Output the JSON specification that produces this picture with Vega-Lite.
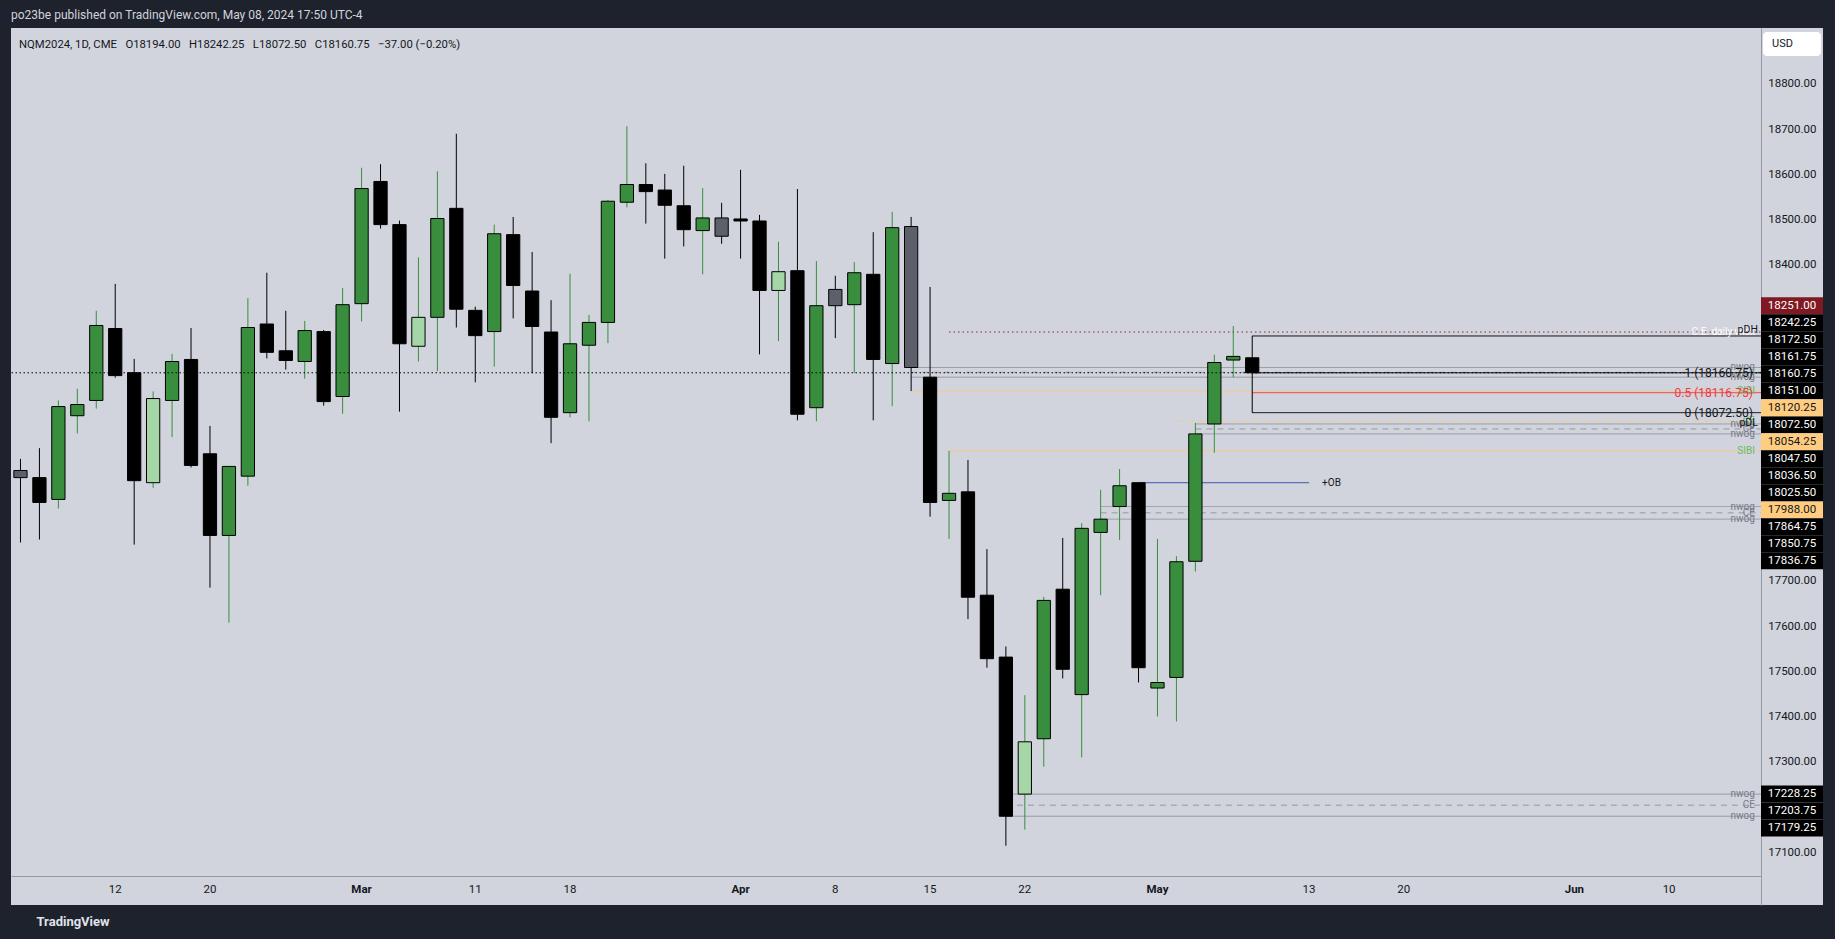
{
  "$schema": "https://vega.github.io/schema/vega-lite/v6.json",
  "autosize": {"type": "pad"},
  "padding": {"left": 10, "top": 9, "right": 13, "bottom": 11},
  "background": "#1e222d",
  "bounds": "flush",
  "config": {
    "view": {"fill": "#d1d4dc", "stroke": null},
    "font": "Roboto",
    "axis": {"grid": false, "ticks": false, "tickSize": 0, "labelFont": "Roboto", "labelColor": "#131722", "domainColor": "#9598a1", "labelFontSize": 11.5, "labelOverlap": false, "labelBound": false},
    "legend": {"disable": true}
  },
  "title": {"text": "po23be published on TradingView.com, May 08, 2024 17:50 UTC-4", "anchor": "start", "frame": "group", "fontSize": 12, "fontWeight": "normal", "color": "#d1d4dc", "offset": 6, "font": "Roboto"},
  "datasets": {
    "candles": [
      {"d":"2024-02-05","o":17944.5,"h":17970.25,"l":17785,"c":17928.75,"k":"downAlt"},
      {"d":"2024-02-06","o":17928.75,"h":17994,"l":17791.75,"c":17873.75,"k":"down"},
      {"d":"2024-02-07","o":17880.5,"h":18099.5,"l":17860.25,"c":18086,"k":"up"},
      {"d":"2024-02-08","o":18065.75,"h":18125.25,"l":18026.5,"c":18090.5,"k":"up"},
      {"d":"2024-02-09","o":18099.5,"h":18298,"l":18081.5,"c":18265.5,"k":"up"},
      {"d":"2024-02-12","o":18258.75,"h":18357.5,"l":18150,"c":18154.5,"k":"down"},
      {"d":"2024-02-13","o":18161,"h":18191.5,"l":17780.5,"c":17922,"k":"down"},
      {"d":"2024-02-14","o":17917.5,"h":18119.5,"l":17906.25,"c":18103.75,"k":"upAlt"},
      {"d":"2024-02-15","o":18099.5,"h":18202.5,"l":18018.5,"c":18185.75,"k":"up"},
      {"d":"2024-02-16","o":18190.25,"h":18260,"l":17951.25,"c":17955.75,"k":"down"},
      {"d":"2024-02-20","o":17981.5,"h":18043.25,"l":17685.25,"c":17800.75,"k":"down"},
      {"d":"2024-02-21","o":17800.75,"h":17953.5,"l":17607.75,"c":17953.5,"k":"up"},
      {"d":"2024-02-22","o":17932,"h":18326,"l":17910.75,"c":18261,"k":"up"},
      {"d":"2024-02-23","o":18268.75,"h":18382.25,"l":18192.5,"c":18206,"k":"down"},
      {"d":"2024-02-26","o":18209.5,"h":18298,"l":18167.75,"c":18188,"k":"down"},
      {"d":"2024-02-27","o":18185.75,"h":18275.5,"l":18147.5,"c":18254.25,"k":"up"},
      {"d":"2024-02-28","o":18252,"h":18255.5,"l":18088,"c":18097,"k":"down"},
      {"d":"2024-02-29","o":18108.25,"h":18348.5,"l":18070.25,"c":18311.5,"k":"up"},
      {"d":"2024-03-01","o":18313.75,"h":18614.5,"l":18274.5,"c":18568.5,"k":"up"},
      {"d":"2024-03-04","o":18584.25,"h":18622.5,"l":18480,"c":18488.75,"k":"down"},
      {"d":"2024-03-05","o":18488.75,"h":18497.75,"l":18074.75,"c":18225,"k":"down"},
      {"d":"2024-03-06","o":18219.5,"h":18416,"l":18185.75,"c":18283.5,"k":"upAlt"},
      {"d":"2024-03-07","o":18283.5,"h":18606.75,"l":18164.5,"c":18502.25,"k":"up"},
      {"d":"2024-03-08","o":18524.75,"h":18689.75,"l":18261,"c":18301.5,"k":"down"},
      {"d":"2024-03-11","o":18299,"h":18307,"l":18139.75,"c":18243,"k":"down"},
      {"d":"2024-03-12","o":18252,"h":18488.75,"l":18174.5,"c":18468.5,"k":"up"},
      {"d":"2024-03-13","o":18466.5,"h":18505.75,"l":18281.25,"c":18354,"k":"down"},
      {"d":"2024-03-14","o":18341.75,"h":18428.25,"l":18160,"c":18263.25,"k":"down"},
      {"d":"2024-03-15","o":18251,"h":18321.5,"l":18005,"c":18062.25,"k":"down"},
      {"d":"2024-03-18","o":18072.5,"h":18380,"l":18062.25,"c":18225,"k":"up"},
      {"d":"2024-03-19","o":18221.75,"h":18289,"l":18053.25,"c":18272.25,"k":"up"},
      {"d":"2024-03-20","o":18272.25,"h":18542.75,"l":18226.25,"c":18540.5,"k":"up"},
      {"d":"2024-03-21","o":18538.25,"h":18706.5,"l":18527,"c":18577.5,"k":"up"},
      {"d":"2024-03-22","o":18577.5,"h":18624.5,"l":18491,"c":18561.75,"k":"down"},
      {"d":"2024-03-25","o":18565.25,"h":18601,"l":18413.5,"c":18531.5,"k":"down"},
      {"d":"2024-03-26","o":18530.5,"h":18619,"l":18440.5,"c":18477.5,"k":"down"},
      {"d":"2024-03-27","o":18475.5,"h":18569.5,"l":18378.75,"c":18503.5,"k":"up"},
      {"d":"2024-03-28","o":18503.5,"h":18537,"l":18446.25,"c":18463,"k":"downAlt"},
      {"d":"2024-04-01","o":18501.25,"h":18610,"l":18413.5,"c":18496.75,"k":"down"},
      {"d":"2024-04-02","o":18496.75,"h":18510.25,"l":18201.5,"c":18343,"k":"down"},
      {"d":"2024-04-03","o":18343,"h":18450.75,"l":18230.75,"c":18384.5,"k":"upAlt"},
      {"d":"2024-04-04","o":18386.75,"h":18567.5,"l":18055.5,"c":18069,"k":"down"},
      {"d":"2024-04-05","o":18083.5,"h":18408,"l":18053.25,"c":18309.25,"k":"up"},
      {"d":"2024-04-08","o":18345.25,"h":18375.5,"l":18237.5,"c":18309.25,"k":"downAlt"},
      {"d":"2024-04-09","o":18311.5,"h":18405.75,"l":18160,"c":18382.25,"k":"up"},
      {"d":"2024-04-10","o":18378.75,"h":18472,"l":18055.5,"c":18190.25,"k":"down"},
      {"d":"2024-04-11","o":18181.25,"h":18517,"l":18087,"c":18482,"k":"up"},
      {"d":"2024-04-12","o":18484.5,"h":18505.75,"l":18120.25,"c":18172.5,"k":"downAlt"},
      {"d":"2024-04-15","o":18151,"h":18350.75,"l":17842.25,"c":17873.75,"k":"down"},
      {"d":"2024-04-16","o":17878.25,"h":17988,"l":17793,"c":17894,"k":"up"},
      {"d":"2024-04-17","o":17897.25,"h":17968,"l":17615.5,"c":17664,"k":"down"},
      {"d":"2024-04-18","o":17668.5,"h":17770.5,"l":17508,"c":17528,"k":"down"},
      {"d":"2024-04-19","o":17531.5,"h":17555,"l":17114,"c":17179.25,"k":"down"},
      {"d":"2024-04-22","o":17228.25,"h":17447.25,"l":17149.75,"c":17344,"k":"upAlt"},
      {"d":"2024-04-23","o":17350.75,"h":17665,"l":17289,"c":17657,"k":"up"},
      {"d":"2024-04-24","o":17681.75,"h":17795.25,"l":17484.25,"c":17504.5,"k":"down"},
      {"d":"2024-04-25","o":17448.5,"h":17827.75,"l":17309.25,"c":17816.5,"k":"up"},
      {"d":"2024-04-26","o":17807.5,"h":17901.75,"l":17668.5,"c":17836.75,"k":"up"},
      {"d":"2024-04-29","o":17864.75,"h":17947.75,"l":17790.75,"c":17910.75,"k":"up"},
      {"d":"2024-04-30","o":17917.5,"h":17917.5,"l":17475.25,"c":17508,"k":"down"},
      {"d":"2024-05-01","o":17463,"h":17793,"l":17400,"c":17475.25,"k":"up"},
      {"d":"2024-05-02","o":17486.5,"h":17754.75,"l":17389,"c":17742.5,"k":"up"},
      {"d":"2024-05-03","o":17743.5,"h":18050,"l":17721,"c":18025.5,"k":"up"},
      {"d":"2024-05-06","o":18047.5,"h":18200.5,"l":17983.75,"c":18183.5,"k":"up"},
      {"d":"2024-05-07","o":18189,"h":18264.25,"l":18151,"c":18197,"k":"up"},
      {"d":"2024-05-08","o":18194,"h":18242.25,"l":18072.5,"c":18160.75,"k":"down"}
    ],
    "levels": [
      {"p":18251,"d":"2024-04-16","e":"2024-06-17","k":"cewick"},
      {"p":18242.25,"d":"2024-05-08","e":"2024-06-17","k":"pdh"},
      {"p":18172.5,"d":"2024-04-12","e":"2024-06-17","k":"nwog"},
      {"p":18161.75,"d":"2024-04-12","e":"2024-06-17","k":"ce"},
      {"p":18151,"d":"2024-04-12","e":"2024-06-17","k":"nwog"},
      {"p":18160.75,"d":"2024-05-08","e":"2024-06-17","k":"fib"},
      {"p":18116.75,"d":"2024-05-08","e":"2024-06-17","k":"fibmid"},
      {"p":18072.5,"d":"2024-05-08","e":"2024-06-17","k":"fib"},
      {"p":18120.25,"d":"2024-04-12","e":"2024-06-17","k":"sibi"},
      {"p":18054.25,"d":"2024-05-02","e":"2024-06-17","k":"sibice"},
      {"p":17988,"d":"2024-04-16","e":"2024-06-17","k":"sibi"},
      {"p":18047.5,"d":"2024-05-03","e":"2024-06-17","k":"nwog"},
      {"p":18036.5,"d":"2024-05-03","e":"2024-06-17","k":"ce"},
      {"p":18025.5,"d":"2024-05-03","e":"2024-06-17","k":"nwog"},
      {"p":17917.5,"d":"2024-04-30","e":"2024-05-13","k":"ob"},
      {"p":17864.75,"d":"2024-04-26","e":"2024-06-17","k":"nwog"},
      {"p":17850.75,"d":"2024-04-26","e":"2024-06-17","k":"ce"},
      {"p":17836.75,"d":"2024-04-26","e":"2024-06-17","k":"nwog"},
      {"p":17228.25,"d":"2024-04-19","e":"2024-06-17","k":"nwog"},
      {"p":17203.75,"d":"2024-04-19","e":"2024-06-17","k":"ce"},
      {"p":17179.25,"d":"2024-04-19","e":"2024-06-17","k":"nwog"}
    ],
    "tags": [
      {"d":"2024-06-17","p":18251,"t":"C.E. daily wick","k":"cewick"},
      {"d":"2024-06-17","p":18242.25,"t":"pDH","k":"pdh"},
      {"d":"2024-06-17","p":18172.5,"t":"nwog","k":"nwog"},
      {"d":"2024-06-17","p":18151,"t":"nwog","k":"nwog"},
      {"d":"2024-06-17","p":18120.25,"t":"SIBI","k":"sibi"},
      {"d":"2024-06-17","p":18072.5,"t":"pDL","k":"pdl"},
      {"d":"2024-06-17","p":18054.25,"t":"CE","k":"sibi"},
      {"d":"2024-06-17","p":18047.5,"t":"nwog","k":"nwog"},
      {"d":"2024-06-17","p":18036.5,"t":"CE","k":"nwog"},
      {"d":"2024-06-17","p":18025.5,"t":"nwog","k":"nwog"},
      {"d":"2024-06-17","p":17988,"t":"SIBI","k":"sibi"},
      {"d":"2024-06-17","p":17864.75,"t":"nwog","k":"nwog"},
      {"d":"2024-06-17","p":17850.75,"t":"CE","k":"nwog"},
      {"d":"2024-06-17","p":17836.75,"t":"nwog","k":"nwog"},
      {"d":"2024-06-17","p":17228.25,"t":"nwog","k":"nwog"},
      {"d":"2024-06-17","p":17203.75,"t":"CE","k":"nwog"},
      {"d":"2024-06-17","p":17179.25,"t":"nwog","k":"nwog"},
      {"d":"2024-06-17","p":18160.75,"t":"1 (18160.75)","k":"fib"},
      {"d":"2024-06-17","p":18116.75,"t":"0.5 (18116.75)","k":"fibmid"},
      {"d":"2024-06-17","p":18072.5,"t":"0 (18072.50)","k":"fib"},
      {"d":"2024-05-13","p":17917.5,"t":"+OB","k":"ob"}
    ]
  },
  "spacing": 0,
  "hconcat": [
    {
      "width": 1750,
      "height": 877,
      "title": {"text": "NQM2024, 1D, CME \u00a0\u00a0O18194.00 \u00a0\u00a0H18242.25 \u00a0\u00a0L18072.50 \u00a0\u00a0C18160.75 \u00a0\u00a0−37.00 (−0.20%)", "anchor": "start", "frame": "group", "offset": -22, "dx": 8, "fontSize": 11.3, "fontWeight": "normal", "color": "#131722", "font": "Roboto"},
      "layer": [
        {
          "encoding": {
            "x": {"field": "d", "type": "ordinal",
              "scale": {"domain": ["2024-02-05","2024-02-06","2024-02-07","2024-02-08","2024-02-09","2024-02-12","2024-02-13","2024-02-14","2024-02-15","2024-02-16","2024-02-20","2024-02-21","2024-02-22","2024-02-23","2024-02-26","2024-02-27","2024-02-28","2024-02-29","2024-03-01","2024-03-04","2024-03-05","2024-03-06","2024-03-07","2024-03-08","2024-03-11","2024-03-12","2024-03-13","2024-03-14","2024-03-15","2024-03-18","2024-03-19","2024-03-20","2024-03-21","2024-03-22","2024-03-25","2024-03-26","2024-03-27","2024-03-28","2024-04-01","2024-04-02","2024-04-03","2024-04-04","2024-04-05","2024-04-08","2024-04-09","2024-04-10","2024-04-11","2024-04-12","2024-04-15","2024-04-16","2024-04-17","2024-04-18","2024-04-19","2024-04-22","2024-04-23","2024-04-24","2024-04-25","2024-04-26","2024-04-29","2024-04-30","2024-05-01","2024-05-02","2024-05-03","2024-05-06","2024-05-07","2024-05-08","2024-05-09","2024-05-10","2024-05-13","2024-05-14","2024-05-15","2024-05-16","2024-05-17","2024-05-20","2024-05-21","2024-05-22","2024-05-23","2024-05-24","2024-05-28","2024-05-29","2024-05-30","2024-05-31","2024-06-03","2024-06-04","2024-06-05","2024-06-06","2024-06-07","2024-06-10","2024-06-11","2024-06-12","2024-06-13","2024-06-14","2024-06-17"], "range": [0, 1762.35], "paddingInner": 0, "paddingOuter": 0},
              "axis": {"orient": "bottom", "offset": -29, "values": ["2024-02-12","2024-02-20","2024-03-01","2024-03-11","2024-03-18","2024-04-01","2024-04-08","2024-04-15","2024-04-22","2024-05-01","2024-05-13","2024-05-20","2024-06-03","2024-06-10"], "labelExpr": "indexof(['2024-03-01','2024-04-01','2024-05-01','2024-06-03'], datum.value) >= 0 ? ['Jan','Feb','Mar','Apr','May','Jun'][toNumber(substring(datum.value,5,7))-1] : '' + toNumber(substring(datum.value,8,10))", "labelAngle": 0, "labelPadding": 7, "labelFontSize": 11.5, "labelColor": "#131722", "labelFontWeight": {"condition": {"test": "indexof(['2024-03-01','2024-04-01','2024-05-01','2024-06-03'], datum.value) >= 0", "value": "bold"}, "value": "normal"}, "domainColor": "#9598a1", "ticks": false, "tickSize": 0, "title": "TradingView", "titleAnchor": "start", "titleAlign": "left", "titleBaseline": "middle", "titleX": 25, "titleY": 45, "titleColor": "#e0e3eb", "titleFontSize": 13, "titleFontWeight": "bold", "titleFont": "Roboto"}
            }
          },
          "resolve": {"scale": {"color": "independent", "fill": "independent", "stroke": "independent", "strokeDash": "independent"}},
          "layer": [
            {
              "data": {"name": "levels"},
              "mark": {"type": "rule", "strokeWidth": 1, "clip": true},
              "encoding": {
                "x2": {"field": "e"},
                "y": {"field": "p", "type": "quantitative", "scale": {"domain": [16982.8, 18923.9], "nice": false, "zero": false}, "axis": null},
                "stroke": {"field": "k", "type": "nominal", "scale": {"domain": ["cewick","pdh","nwog","ce","fib","fibmid","sibi","sibice","ob"], "range": ["#9c1c2c","#000000","#9598a1","#9598a1","#000000","#f23645","#f5c98a","#f5c98a","#1e3fa8"]}},
                "strokeDash": {"field": "k", "type": "nominal", "scale": {"domain": ["cewick","pdh","nwog","ce","fib","fibmid","sibi","sibice","ob"], "range": [[1.5,3],[1,0],[1,0],[6,5],[1,0],[1,0],[1,0],[6,5],[1,0]]}}
              }
            },
            {
              "data": {"name": "candles"},
              "mark": {"type": "rule", "strokeWidth": 1},
              "encoding": {
                "y": {"field": "l", "type": "quantitative", "scale": {"domain": [16982.8, 18923.9], "nice": false, "zero": false}, "axis": null},
                "y2": {"field": "h"},
                "color": {"field": "k", "type": "nominal", "scale": {"domain": ["up","down","upAlt","downAlt"], "range": ["#388e3c","#000000","#388e3c","#000000"]}}
              }
            },
            {
              "data": {"name": "candles"},
              "mark": {"type": "bar", "width": {"band": 0.7}, "stroke": "#000000", "strokeWidth": 1},
              "encoding": {
                "y": {"field": "o", "type": "quantitative", "scale": {"domain": [16982.8, 18923.9], "nice": false, "zero": false}, "axis": null},
                "y2": {"field": "c"},
                "fill": {"field": "k", "type": "nominal", "scale": {"domain": ["up","down","upAlt","downAlt"], "range": ["#388e3c","#000000","#a5d6a7","#5d606b"]}}
              }
            }
          ]
        },
        {
          "data": {"name": "candles"},
          "transform": [{"filter": "datum.d == '2024-05-08'"}],
          "mark": {"type": "rule", "color": "#000000", "strokeDash": [1.5, 2.5], "strokeWidth": 1},
          "encoding": {
            "y": {"field": "c", "type": "quantitative", "scale": {"domain": [16982.8, 18923.9], "nice": false, "zero": false}, "axis": null}
          }
        },
        {
          "encoding": {
            "x": {"field": "d", "type": "ordinal",
              "scale": {"domain": ["2024-02-05","2024-02-06","2024-02-07","2024-02-08","2024-02-09","2024-02-12","2024-02-13","2024-02-14","2024-02-15","2024-02-16","2024-02-20","2024-02-21","2024-02-22","2024-02-23","2024-02-26","2024-02-27","2024-02-28","2024-02-29","2024-03-01","2024-03-04","2024-03-05","2024-03-06","2024-03-07","2024-03-08","2024-03-11","2024-03-12","2024-03-13","2024-03-14","2024-03-15","2024-03-18","2024-03-19","2024-03-20","2024-03-21","2024-03-22","2024-03-25","2024-03-26","2024-03-27","2024-03-28","2024-04-01","2024-04-02","2024-04-03","2024-04-04","2024-04-05","2024-04-08","2024-04-09","2024-04-10","2024-04-11","2024-04-12","2024-04-15","2024-04-16","2024-04-17","2024-04-18","2024-04-19","2024-04-22","2024-04-23","2024-04-24","2024-04-25","2024-04-26","2024-04-29","2024-04-30","2024-05-01","2024-05-02","2024-05-03","2024-05-06","2024-05-07","2024-05-08","2024-05-09","2024-05-10","2024-05-13","2024-05-14","2024-05-15","2024-05-16","2024-05-17","2024-05-20","2024-05-21","2024-05-22","2024-05-23","2024-05-24","2024-05-28","2024-05-29","2024-05-30","2024-05-31","2024-06-03","2024-06-04","2024-06-05","2024-06-06","2024-06-07","2024-06-10","2024-06-11","2024-06-12","2024-06-13","2024-06-14","2024-06-17"], "range": [0, 1762.35], "paddingInner": 0, "paddingOuter": 0},
              "axis": {"orient": "bottom", "offset": -29, "values": ["2024-02-12","2024-02-20","2024-03-01","2024-03-11","2024-03-18","2024-04-01","2024-04-08","2024-04-15","2024-04-22","2024-05-01","2024-05-13","2024-05-20","2024-06-03","2024-06-10"], "labelExpr": "indexof(['2024-03-01','2024-04-01','2024-05-01','2024-06-03'], datum.value) >= 0 ? ['Jan','Feb','Mar','Apr','May','Jun'][toNumber(substring(datum.value,5,7))-1] : '' + toNumber(substring(datum.value,8,10))", "labelAngle": 0, "labelPadding": 7, "labelFontSize": 11.5, "labelColor": "#131722", "labelFontWeight": {"condition": {"test": "indexof(['2024-03-01','2024-04-01','2024-05-01','2024-06-03'], datum.value) >= 0", "value": "bold"}, "value": "normal"}, "domainColor": "#9598a1", "ticks": false, "tickSize": 0, "title": "TradingView", "titleAnchor": "start", "titleAlign": "left", "titleBaseline": "middle", "titleX": 25, "titleY": 45, "titleColor": "#e0e3eb", "titleFontSize": 13, "titleFontWeight": "bold", "titleFont": "Roboto"}
            }
          },
          "resolve": {"scale": {"color": "independent"}},
          "layer": [
            {
              "data": {"name": "tags"},
              "transform": [{"filter": "indexof(['nwog','sibi','cewick'], datum.k) >= 0"}],
              "mark": {"type": "text", "align": "right", "baseline": "middle", "dx": -9, "fontSize": 10},
              "encoding": {
                "y": {"field": "p", "type": "quantitative", "scale": {"domain": [16982.8, 18923.9], "nice": false, "zero": false}, "axis": null},
                "text": {"field": "t"},
                "color": {"field": "k", "type": "nominal", "scale": {"domain": ["nwog","sibi","cewick"], "range": ["#787b86","#66bb6a","#ffffff"]}}
              }
            },
            {
              "data": {"name": "tags"},
              "transform": [{"filter": "datum.k == 'pdh'"}],
              "mark": {"type": "text", "align": "right", "baseline": "alphabetic", "dx": -6, "dy": -3, "fontSize": 10.5, "color": "#131722"},
              "encoding": {
                "y": {"field": "p", "type": "quantitative", "scale": {"domain": [16982.8, 18923.9], "nice": false, "zero": false}, "axis": null},
                "text": {"field": "t"}
              }
            },
            {
              "data": {"name": "tags"},
              "transform": [{"filter": "datum.k == 'pdl'"}],
              "mark": {"type": "text", "align": "right", "baseline": "alphabetic", "dx": -6, "dy": 13, "fontSize": 10.5, "color": "#131722"},
              "encoding": {
                "y": {"field": "p", "type": "quantitative", "scale": {"domain": [16982.8, 18923.9], "nice": false, "zero": false}, "axis": null},
                "text": {"field": "t"}
              }
            },
            {
              "data": {"name": "tags"},
              "transform": [{"filter": "datum.k == 'fib' || datum.k == 'fibmid'"}],
              "mark": {"type": "text", "align": "right", "baseline": "middle", "dx": -11, "fontSize": 12},
              "encoding": {
                "y": {"field": "p", "type": "quantitative", "scale": {"domain": [16982.8, 18923.9], "nice": false, "zero": false}, "axis": null},
                "text": {"field": "t"},
                "color": {"field": "k", "type": "nominal", "scale": {"domain": ["fib","fibmid"], "range": ["#131722","#f23645"]}}
              }
            },
            {
              "data": {"name": "tags"},
              "transform": [{"filter": "datum.k == 'ob'"}],
              "mark": {"type": "text", "align": "left", "baseline": "middle", "dx": 13, "fontSize": 10, "color": "#131722"},
              "encoding": {
                "y": {"field": "p", "type": "quantitative", "scale": {"domain": [16982.8, 18923.9], "nice": false, "zero": false}, "axis": null},
                "text": {"field": "t"}
              }
            }
          ]
        }
      ]
    },
    {
      "width": 62,
      "height": 877,
      "resolve": {"scale": {"y": "independent", "color": "independent", "fill": "independent"}, "axis": {"y": "independent"}},
      "layer": [
        {
          "data": {"values": [{"u": "USD"}]},
          "encoding": {
            "y": {"datum": 18888.5, "type": "quantitative", "scale": {"domain": [16982.8, 18923.9], "nice": false, "zero": false},
              "axis": {"orient": "right", "offset": -62, "values": [17100,17300,17400,17500,17600,17700,18400,18500,18600,18700,18800], "format": ".2f", "labelAlign": "right", "labelBaseline": "middle", "labelPadding": 55, "labelFontSize": 11.5, "labelColor": "#131722", "domainColor": "#9598a1", "ticks": false, "tickSize": 0, "title": null}}
          },
          "layer": [
            {"mark": {"type": "tick", "orient": "horizontal", "thickness": 24, "size": 58, "color": "#ffffff", "opacity": 1, "cornerRadius": 4}},
            {"mark": {"type": "text", "align": "left", "baseline": "middle", "dx": -20, "fontSize": 11, "color": "#131722"}, "encoding": {"text": {"field": "u"}}}
          ]
        },
        {
          "data": {"name": "levels"},
          "transform": [
            {"filter": "datum.k != 'fibmid' && datum.k != 'ob' && datum.p > 17500"},
            {"window": [{"op": "row_number", "as": "r"}], "sort": [{"field": "p", "order": "descending"}]}
          ],
          "encoding": {
            "y": {"field": "r", "type": "quantitative", "scale": {"domain": [1, 16], "range": [277.7, 532.7], "nice": false, "zero": false}, "axis": null}
          },
          "layer": [
            {
              "mark": {"type": "tick", "orient": "horizontal", "thickness": 17, "size": 62, "opacity": 1},
              "encoding": {"color": {"field": "k", "type": "nominal", "scale": {"domain": ["cewick","pdh","nwog","ce","fib","sibi","sibice"], "range": ["#801922","#000000","#000000","#000000","#000000","#ffcc80","#ffcc80"]}}}
            },
            {
              "mark": {"type": "text", "fontSize": 11.5, "baseline": "middle", "align": "center"},
              "encoding": {
                "text": {"field": "p", "type": "quantitative", "format": ".2f"},
                "fill": {"field": "k", "type": "nominal", "scale": {"domain": ["cewick","pdh","nwog","ce","fib","sibi","sibice"], "range": ["#ffffff","#ffffff","#ffffff","#ffffff","#ffffff","#131722","#131722"]}}
              }
            }
          ]
        },
        {
          "data": {"name": "levels"},
          "transform": [
            {"filter": "datum.k != 'fibmid' && datum.k != 'ob' && datum.p < 17500"},
            {"window": [{"op": "row_number", "as": "r"}], "sort": [{"field": "p", "order": "descending"}]}
          ],
          "encoding": {
            "y": {"field": "r", "type": "quantitative", "scale": {"domain": [1, 3], "range": [766.1, 800.1], "nice": false, "zero": false}, "axis": null}
          },
          "layer": [
            {
              "mark": {"type": "tick", "orient": "horizontal", "thickness": 17, "size": 62, "opacity": 1, "color": "#000000"}
            },
            {
              "mark": {"type": "text", "fontSize": 11.5, "baseline": "middle", "align": "center", "color": "#ffffff"},
              "encoding": {"text": {"field": "p", "type": "quantitative", "format": ".2f"}}
            }
          ]
        }
      ]
    }
  ]
}
